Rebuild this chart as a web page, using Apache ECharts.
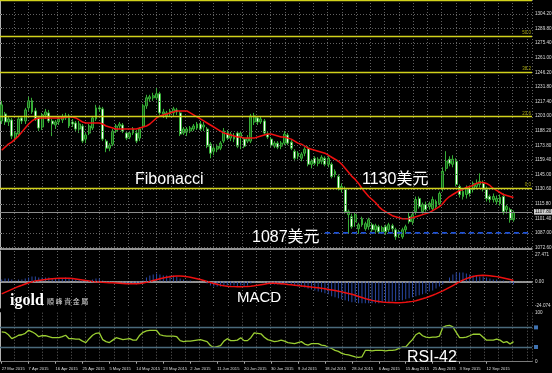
<!DOCTYPE html>
<html><head><meta charset="utf-8">
<script src="https://cdn.jsdelivr.net/npm/echarts@6/dist/echarts.min.js"></script>
<style>html,body{margin:0;padding:0;background:#000;}#c{width:552px;height:373px;}</style>
</head><body><div id="c"></div>
<script>
// ---------- data ----------
const dateLabels = ['27 Mar 2015','7 Apr 2015','16 Apr 2015','25 Apr 2015','5 May 2015','14 May 2015','23 May 2015','2 Jun 2015','11 Jun 2015','20 Jun 2015','30 Jun 2015','9 Jul 2015','18 Jul 2015','28 Jul 2015','6 Aug 2015','15 Aug 2015','25 Aug 2015','3 Sep 2015','12 Sep 2015'];
const dateLabelBars = [0,8,16,24,32,40,48,56,64,72,80,88,96,104,112,120,128,136,144];

const open = [1198,1205,1197,1199,1181,1185,1201,1198,1211,1218,1208,1201,1192,1204,1206,1198,1194,1197,1199,1201,
1203,1197,1196,1190,1193,1180,1186,1191,1200,1211,1210,1178,1171,1175,1188,1193,1194,1186,1182,1186,
1186,1181,1193,1213,1220,1221,1221,1225,1205,1203,1205,1206,1209,1206,1186,1187,1188,1190,1191,1195,
1192,1190,1175,1168,1170,1171,1178,1186,1181,1180,1186,1182,1180,1178,1178,1197,1201,1197,1198,1185,
1180,1173,1176,1173,1176,1184,1177,1168,1163,1161,1166,1171,1155,1161,1156,1158,1161,1155,1155,1145,
1143,1130,1131,1105,1103,1098,1091,1101,1091,1093,1095,1090,1093,1088,1093,1090,1094,1090,1085,1083,
1090,1103,1098,1108,1121,1108,1115,1113,1111,1118,1116,1131,1151,1160,1155,1158,1133,1123,1125,1131,
1130,1133,1135,1136,1131,1123,1120,1118,1122,1123,1110,1110,1100];
const close = [1214,1197,1200,1183,1186,1200,1198,1209,1218,1207,1200,1191,1204,1207,1198,1195,1197,1200,1202,1203,
1193,1195,1190,1195,1178,1184,1193,1201,1211,1210,1180,1171,1174,1188,1193,1195,1188,1181,1186,1190,
1178,1190,1213,1221,1222,1223,1225,1206,1207,1206,1208,1210,1207,1185,1190,1190,1191,1193,1195,1190,
1194,1173,1166,1171,1173,1176,1188,1181,1185,1183,1173,1186,1173,1181,1203,1203,1197,1200,1186,1182,
1174,1176,1172,1176,1185,1176,1171,1161,1166,1165,1170,1155,1158,1156,1160,1162,1155,1161,1143,1148,
1131,1133,1108,1108,1093,1105,1095,1095,1096,1100,1090,1094,1088,1092,1088,1095,1091,1083,1088,1090,
1093,1098,1105,1120,1113,1115,1110,1116,1120,1113,1126,1148,1158,1156,1160,1135,1125,1128,1131,1126,
1136,1136,1138,1131,1121,1120,1123,1121,1116,1108,1113,1100,1107];
const low = [1195,1194,1193,1180,1178,1183,1195,1195,1208,1205,1198,1188,1189,1200,1196,1183,1190,1194,1196,1199,
1191,1192,1187,1186,1176,1176,1184,1189,1198,1207,1178,1167,1168,1173,1186,1190,1186,1179,1180,1184,
1176,1178,1190,1210,1217,1218,1219,1204,1201,1200,1202,1203,1204,1183,1184,1183,1186,1188,1189,1188,
1188,1171,1161,1164,1167,1169,1176,1179,1178,1177,1171,1170,1171,1176,1176,1194,1194,1195,1184,1180,
1172,1171,1170,1170,1174,1174,1169,1158,1160,1158,1163,1153,1151,1154,1153,1155,1153,1152,1141,1142,
1129,1127,1106,1086,1091,1093,1086,1093,1089,1090,1088,1087,1086,1086,1085,1087,1088,1080,1082,1081,
1087,1096,1095,1105,1111,1106,1108,1110,1109,1111,1114,1128,1148,1153,1152,1133,1122,1120,1121,1123,
1127,1130,1132,1128,1118,1117,1117,1115,1114,1105,1106,1097,1098];
const high = [1218,1207,1203,1201,1188,1203,1203,1211,1222,1221,1211,1203,1206,1210,1209,1200,1199,1202,1205,1206,
1205,1200,1198,1198,1195,1186,1195,1203,1214,1213,1212,1180,1176,1190,1195,1197,1196,1188,1188,1192,
1189,1192,1215,1224,1224,1226,1231,1227,1210,1208,1210,1212,1211,1208,1192,1192,1193,1195,1197,1198,
1197,1192,1177,1173,1175,1178,1191,1189,1187,1186,1188,1188,1182,1184,1205,1206,1203,1202,1200,1187,
1182,1178,1178,1178,1188,1186,1179,1170,1168,1167,1172,1173,1160,1163,1162,1164,1163,1163,1157,1150,
1145,1136,1133,1110,1106,1107,1097,1103,1098,1102,1097,1096,1095,1094,1095,1097,1096,1092,1090,1092,
1095,1107,1108,1123,1123,1117,1118,1118,1123,1120,1128,1152,1168,1163,1164,1161,1135,1131,1134,1134,
1138,1140,1146,1139,1133,1125,1126,1124,1125,1126,1115,1112,1109];
const ma = [1169,1172,1175,1177,1180,1183,1187,1191,1195,1198,1200,1201,1201,1201,1201,1201,1201,1201,1201,1202,
1202,1202,1201,1199,1197,1196,1196,1196,1196,1196,1195,1193,1192,1191,1190,1190,1190,1190,1190,1190,
1190,1191,1192,1193,1195,1198,1201,1203,1204,1205,1206,1207,1208,1208,1208,1208,1206,1204,1202,1200,
1198,1196,1194,1192,1190,1188,1186,1185,1184,1183,1182,1182,1181,1181,1181,1181,1182,1183,1184,1185,
1185,1184,1183,1182,1182,1181,1180,1178,1176,1175,1173,1171,1170,1169,1168,1167,1166,1164,1162,1160,
1158,1155,1151,1147,1143,1140,1136,1131,1127,1123,1120,1117,1113,1110,1108,1106,1104,1103,1102,1101,
1101,1101,1102,1103,1104,1105,1106,1107,1109,1111,1113,1116,1120,1123,1125,1127,1129,1130,1132,1133,
1134,1136,1137,1137,1136,1134,1131,1129,1127,1125,1124,1123,1122];
const macdMain = [2,3,3,2,1,2,2,3,4,5,5,4,4,4,4,3,3,3,3,4,
3,3,2,2,1,1,1,2,3,3,1,-1,-1,0,0,0,-1,-2,-2,-2,
-3,-2,1,4,6,7,8,7,6,6,6,6,5,3,2,1,1,0,0,0,
0,-2,-4,-5,-5,-5,-4,-4,-4,-4,-5,-4,-5,-4,-2,-1,0,0,-1,-2,
-3,-3,-3,-3,-2,-2,-3,-4,-5,-5,-6,-7,-8,-9,-10,-11,-12,-13,-15,-16,
-17,-18,-19,-20,-21,-21,-22,-22,-22,-22,-22,-22,-22,-21,-21,-21,-20,-20,-19,-19,
-18,-17,-16,-15,-14,-13,-12,-10,-9,-7,-5,-3,0,4,7,9,9,9,8,7,
6,6,5,5,4,3,2,2,1,1,0,-2,-3];
const macdSignal = [-12.5,-11,-9.5,-8,-6.5,-5,-3.8,-2.5,-1.3,-0.3,0.5,1.1,1.6,2.0,2.4,2.7,3.0,3.2,3.3,3.3,
3.2,2.9,2.5,2.0,1.5,1.0,0.5,0.1,-0.2,-0.5,-0.8,-1.0,-1.2,-1.4,-1.6,-1.8,-2.0,-2.2,-2.3,-2.4,
-2.3,-2.0,-1.5,-0.8,0.0,0.9,1.8,2.7,3.5,4.2,4.8,5.2,5.5,5.5,5.3,4.9,4.3,3.6,2.8,1.9,
1.0,0.0,-1.0,-2.0,-2.9,-3.7,-4.3,-4.8,-5.1,-5.2,-5.3,-5.3,-5.2,-5.0,-4.8,-4.4,-3.9,-3.3,-2.7,-2.1,
-1.8,-1.8,-2.0,-2.3,-2.6,-3.0,-3.3,-3.7,-4.1,-4.5,-4.9,-5.3,-5.7,-6.0,-6.4,-6.9,-7.4,-8.0,-8.6,-9.2,
-9.8,-10.5,-11.3,-12.1,-13.0,-14.0,-15.1,-16.2,-17.3,-18.3,-19.1,-19.8,-20.3,-20.7,-21.0,-21.2,-21.3,-21.4,-21.4,-21.3,
-21.0,-20.6,-20.1,-19.4,-18.5,-17.5,-16.4,-15.2,-13.9,-12.5,-11.0,-9.5,-7.8,-6.0,-4.1,-2.2,-0.3,1.4,2.9,4.1,
5.0,5.7,6.1,6.2,6.1,5.8,5.4,4.9,4.3,3.6,2.8,1.9,1.0];
const rsi = [61,60,55,47,50,54,55,58,64,61,57,51,53,53,51,49,49,49,51,54,
47,47,46,46,42,39,47,54,58,59,45,41,39,44,49,47,45,46,47,44,
44,54,60,63,64,64,64,55,53,52,52,52,51,43,41,42,42,43,44,45,
43,41,33,29,31,33,42,47,43,43,44,49,43,43,49,59,58,57,50,45,
43,41,42,44,42,39,38,37,39,41,36,34,37,37,37,34,33,29,27,23,
21,17,15,14,12,10,9,10,23,23,22,23,23,23,22,23,23,24,27,30,
30,38,45,55,59,53,50,49,50,50,52,70,73,74,71,60,49,49,50,53,
56,56,56,50,44,44,44,46,44,39,41,36,41];

const priceTicks = [1072.6,1087.0,1101.4,1115.8,1130.6,1145.0,1159.4,1173.8,1188.2,1203.0,1217.4,1231.8,1246.2,1261.0,1275.4,1289.8,1304.2];
const fibLevels = ['0.0','23.6','38.2','50.0','61.8'];
const fibPrices = [1131,1202.3,1246.6,1282.4,1317.4];
const supportPrice = 1087;
const supportFromBar = 96;
const currentPrice = 1107.8;
const macdTicks = [27.471,0,-24.074];
const macdTickText = ['27.471','0.00','-24.074'];
const rsiTicks = [100,0];
const rsiLevels = [70,30];

// ---------- build ----------
const N_SLOTS = 158;
const VGRID = 4.23;
const slots = Array.from({length:N_SLOTS},(_,i)=>String(i));
const labelAt = {};
dateLabelBars.forEach((b,k)=>{labelAt[b]=dateLabels[k];});
const candleData = open.map((o,i)=>[o,close[i],low[i],high[i]]);
const supportData = slots.map((s,i)=> i>=supportFromBar ? supportPrice : null);

const FONT = "'Liberation Sans','Noto Sans CJK SC',sans-serif";
const dotted = {type:[1,2],color:'#626262',width:1};
const small = {fontSize:4.6,color:'#dcdcdc',fontFamily:FONT};

function catAxis(g, extra){
  return Object.assign({type:'category',gridIndex:g,data:slots,boundaryGap:true,
    axisLine:{show:true,lineStyle:{color:'#c4c4c4',width:1.5}},axisTick:{show:false},axisLabel:{show:false},splitLine:{show:false}},extra||{});
}
function vgridAxis(g){
  return {type:'value',gridIndex:g,min:0,max:N_SLOTS,interval:VGRID,position:'top',
    axisLine:{show:false},axisTick:{show:false},axisLabel:{show:false},splitLine:{show:true,lineStyle:dotted}};
}
const gridBase = {left:0,width:532,containLabel:false,outerBoundsMode:'none'};

const option = {
  backgroundColor:'#000',
  animation:false,
  grid:[
    Object.assign({top:0,height:249},gridBase),
    Object.assign({top:251,height:57},gridBase),
    Object.assign({top:312.7,height:49},gridBase)
  ],
  xAxis:[
    catAxis(0),
    catAxis(1),
    catAxis(2,{
      axisLine:{show:true,lineStyle:{color:'#7a7a7a',width:1}},
      axisTick:{show:true,alignWithLabel:true,interval:(i)=>labelAt[i]!==undefined,length:2,lineStyle:{color:'#aaa'}},
      axisLabel:{show:true,interval:(i)=>labelAt[i]!==undefined,formatter:(v,i)=>labelAt[i]||'',align:'left',margin:5,
        hideOverlap:false,fontSize:4.1,color:'#dcdcdc',fontFamily:FONT}
    }),
    vgridAxis(0),vgridAxis(1),vgridAxis(2)
  ],
  yAxis:[
    {type:'value',gridIndex:0,position:'right',min:1070.9,max:1318.1,
      axisLine:{show:true,lineStyle:{color:'#b0b0b0',width:1}},
      axisTick:{show:true,customValues:priceTicks,length:2,lineStyle:{color:'#b0b0b0'}},
      axisLabel:Object.assign({customValues:priceTicks,formatter:(v)=>v.toFixed(2),margin:3,hideOverlap:false},small),
      splitLine:{show:false}},
    {type:'value',gridIndex:1,position:'right',min:-26.8,max:30.8,
      axisLine:{show:true,lineStyle:{color:'#b0b0b0',width:1}},
      axisTick:{show:false},
      axisLabel:Object.assign({customValues:macdTicks,formatter:(v)=>{const k=macdTicks.indexOf(v);return k>=0?macdTickText[k]:String(v);},margin:3,hideOverlap:false},small),
      splitLine:{show:false}},
    {type:'value',gridIndex:2,position:'right',min:0,max:100,
      axisLine:{show:true,lineStyle:{color:'#b0b0b0',width:1}},
      axisTick:{show:false},
      axisLabel:Object.assign({customValues:rsiTicks,formatter:(v)=>String(v),margin:3,hideOverlap:false},small),
      splitLine:{show:false}}
  ],
  series:[
    {type:'line',name:'grid',xAxisIndex:0,yAxisIndex:0,data:[],z:1,silent:true,
      markLine:{silent:true,symbol:['none','none'],animation:false,label:{show:false},
        lineStyle:dotted,data:priceTicks.map(v=>({yAxis:v}))}},
    {type:'line',name:'price',xAxisIndex:0,yAxisIndex:0,data:[],z:2,silent:true,
      markLine:{silent:true,symbol:['none','none'],animation:false,
        lineStyle:{type:'solid',color:'#8c8c8c',width:1},
        label:{show:true,position:'end',distance:2,formatter:currentPrice.toFixed(2),backgroundColor:'#cfcfcf',color:'#000',fontSize:4.6,padding:[1,1,0,1],fontFamily:FONT},
        data:[{yAxis:currentPrice}]}},
    {type:'candlestick',name:'XAUUSD',xAxisIndex:0,yAxisIndex:0,data:candleData,barWidth:2.4,z:3,
      itemStyle:{color:'#145814',color0:'#ffffff',borderColor:'#36ad36',borderColor0:'#36ad36',borderWidth:1}},
    {type:'line',name:'MA',xAxisIndex:0,yAxisIndex:0,data:ma,symbol:'none',z:4,
      lineStyle:{color:'#f01010',width:1.5}},
    {type:'line',name:'support',xAxisIndex:0,yAxisIndex:0,data:supportData,symbol:'none',z:5,
      lineStyle:{color:'#1f52d6',width:1.8,type:[5,4]}},
    {type:'line',name:'fib',xAxisIndex:0,yAxisIndex:0,data:[],z:5,silent:true,
      markLine:{silent:true,symbol:['none','none'],animation:false,
        lineStyle:{type:'solid',color:'#d2d21c',width:1.4},
        label:{show:true,position:'insideEndTop',distance:1,color:'#a8a810',fontSize:4.5,fontFamily:FONT},
        data:fibPrices.map((p,k)=>({yAxis:p,label:{formatter:fibLevels[k]}}))}},
    {type:'bar',name:'MACD',xAxisIndex:1,yAxisIndex:1,data:macdMain,barWidth:1,z:2,
      itemStyle:{color:'#2a49a8'}},
    {type:'line',name:'Signal',xAxisIndex:1,yAxisIndex:1,data:macdSignal,symbol:'none',z:3,
      lineStyle:{color:'#ee1010',width:1.5},
      markLine:{silent:true,symbol:['none','none'],animation:false,label:{show:false},
        lineStyle:{type:[1,2],color:'#8a8a8a',width:1},data:[{yAxis:0}]}},
    {type:'line',name:'RSI',xAxisIndex:2,yAxisIndex:2,data:rsi,symbol:'none',z:3,
      lineStyle:{color:'#9acd32',width:1.3},
      markLine:{silent:true,symbol:['none','none'],animation:false,
        lineStyle:{type:'solid',color:'#4a6a7c',width:1.3},
        label:{show:true,position:'end',distance:2,formatter:'{b|}',rich:{b:{width:4,height:4,backgroundColor:'#3f72b0'}}},
        data:rsiLevels.map(v=>({yAxis:v}))}}
  ],
  graphic:[
    {type:'text',silent:true,z:100,style:{x:135,y:180,text:'Fibonacci',fill:'#ffffff',font:"16px "+FONT,textVerticalAlign:'middle',verticalAlign:'middle'}},
    {type:'text',silent:true,z:100,style:{x:362,y:180,text:'1130美元',fill:'#ffffff',font:"16px "+FONT,textVerticalAlign:'middle',verticalAlign:'middle'}},
    {type:'text',silent:true,z:100,style:{x:252,y:237.5,text:'1087美元',fill:'#ffffff',font:"16px "+FONT,textVerticalAlign:'middle',verticalAlign:'middle'}},
    {type:'text',silent:true,z:100,style:{x:237,y:298,text:'MACD',fill:'#ffffff',font:"15px "+FONT,textVerticalAlign:'middle',verticalAlign:'middle'}},
    {type:'text',silent:true,z:100,style:{x:407,y:357.5,text:'RSI-42',fill:'#ffffff',font:"16px "+FONT,textVerticalAlign:'middle',verticalAlign:'middle'}},
    {type:'text',silent:true,z:100,style:{x:10,y:300.5,text:'igold',fill:'#ffffff',font:"bold 16px 'Liberation Serif','DejaVu Serif',serif",textVerticalAlign:'middle',verticalAlign:'middle'}},
    {type:'text',silent:true,z:100,style:{x:47,y:301.5,text:'順 峰 貴 金 屬',fill:'#d8d8d8',font:"7px 'Noto Sans CJK TC',sans-serif",textVerticalAlign:'middle',verticalAlign:'middle'}}
  ]
};
const chart = echarts.init(document.getElementById('c'),null,{renderer:'canvas'});
chart.setOption(option);
</script>
</body></html>
